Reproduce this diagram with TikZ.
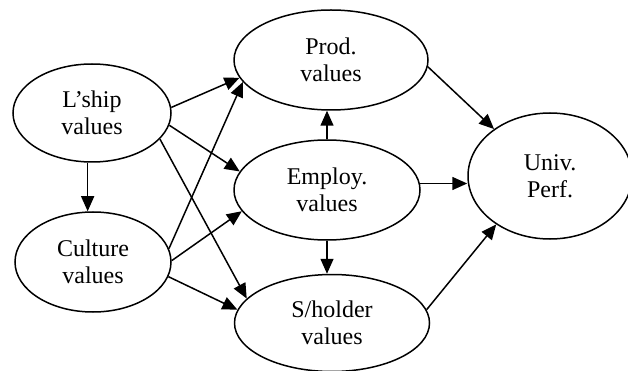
\documentclass[tikz,border=0pt]{standalone}
\usepackage{fontspec}
\setmainfont{Liberation Serif}
\usetikzlibrary{shapes.geometric,arrows.meta}
\begin{document}
\begin{tikzpicture}[x=1pt,y=-1pt,
  ell/.style={ellipse,draw,line width=1.5pt,inner sep=0pt,align=center,
              font=\fontsize{24}{27}\selectfont},
  arr/.style={line width=1.5pt,-{Triangle[length=15pt,width=13pt]}}]
\useasboundingbox (0,0) rectangle (628,371);
\node[ell,minimum width=158pt,minimum height=98pt]  (lship)   at (92,113)  {L’ship\\values};
\node[ell,minimum width=156pt,minimum height=100pt] (culture) at (93,262)  {Culture\\values};
\node[ell,minimum width=194pt,minimum height=100pt] (prod)    at (331,60)  {Prod.\\values};
\node[ell,minimum width=186pt,minimum height=100pt] (employ)  at (327,190) {Employ.\\values};
\node[ell,minimum width=195pt,minimum height=97pt]  (sholder) at (332,323) {S/holder\\values};
\node[ell,minimum width=164pt,minimum height=126pt] (univ)    at (550,176) {Univ.\\Perf.};

\draw[arr] (lship.4)   -- (prod.191);
\draw[arr] (lship.-9)  -- (employ.168);
\draw[arr] (lship.-21) -- (sholder.164);
\draw[arr] (lship.265) -- (lship.265 |- culture.north);
\draw[arr] (culture.10)  -- (prod.194);
\draw[arr] (culture.1)   -- (employ.194);
\draw[arr] (culture.-11) -- (sholder.172);
\draw[arr] (employ.north) -- (employ.north |- prod.south);
\draw[arr] (employ.south) -- (employ.south |- sholder.north);
\draw[arr] (prod.-4) -- (univ.140);
\draw[arr] (employ.4) -- (employ.4 -| univ.west);
\draw[arr] (sholder.8) -- (univ.222);
\end{tikzpicture}
\end{document}
